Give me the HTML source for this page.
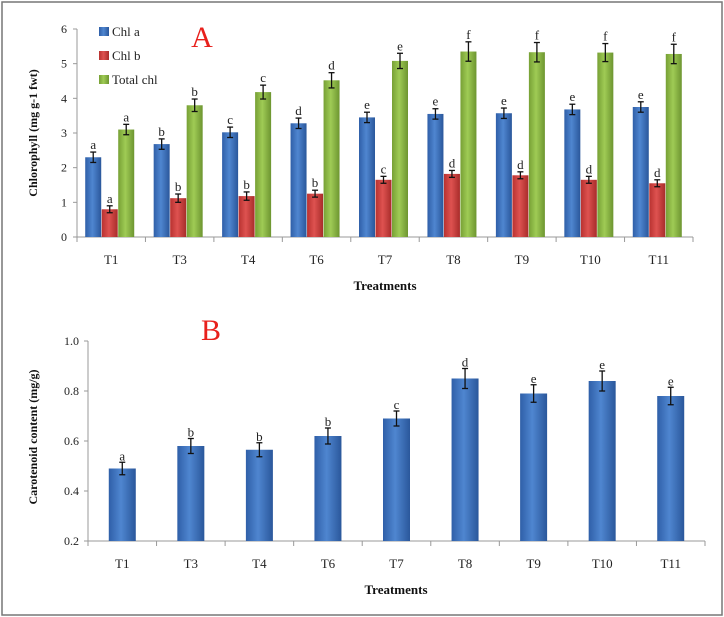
<!DOCTYPE html>
<html><head><meta charset="utf-8"><style>
body{margin:0;background:#fff;}
svg{display:block;font-family:"Liberation Serif",serif;}
</style></head><body>
<svg id="c" width="724" height="617">
<defs>
<linearGradient id="gb" x1="0" x2="1"><stop offset="0" stop-color="#2f5fa8"/><stop offset="0.45" stop-color="#4f86d0"/><stop offset="1" stop-color="#2a579b"/></linearGradient>
<linearGradient id="gr" x1="0" x2="1"><stop offset="0" stop-color="#b83230"/><stop offset="0.45" stop-color="#de5250"/><stop offset="1" stop-color="#a82c2a"/></linearGradient>
<linearGradient id="gg" x1="0" x2="1"><stop offset="0" stop-color="#77a035"/><stop offset="0.45" stop-color="#9fcb55"/><stop offset="1" stop-color="#6d9530"/></linearGradient>
</defs>
<rect x="2" y="2" width="720" height="613" fill="#fff" stroke="#777" stroke-width="1.5"/>
</svg>
<script>
const cats=["T1","T3","T4","T6","T7","T8","T9","T10","T11"];
const chlA=[2.3,2.68,3.02,3.28,3.45,3.55,3.57,3.68,3.75];
const chlB=[0.8,1.12,1.18,1.25,1.65,1.82,1.78,1.65,1.55];
const chlT=[3.1,3.8,4.18,4.52,5.08,5.35,5.33,5.32,5.28];
const errA=[0.15,0.15,0.15,0.15,0.15,0.15,0.15,0.15,0.15];
const errB=[0.1,0.12,0.12,0.1,0.1,0.1,0.1,0.1,0.1];
const errT=[0.15,0.18,0.2,0.22,0.22,0.28,0.28,0.26,0.28];
const letA=["a","b","c","d","e","e","e","e","e"];
const letB=["a","b","b","b","c","d","d","d","d"];
const letT=["a","b","c","d","e","f","f","f","f"];
const yTicksA=[0,1,2,3,4,5,6];
const caro=[0.49,0.58,0.565,0.62,0.69,0.85,0.79,0.84,0.78];
const caroErr=[0.025,0.03,0.028,0.032,0.03,0.04,0.035,0.04,0.035];
const caroLet=["a","b","b","b","c","d","e","e","e"];
const yTicksB=[0.2,0.4,0.6,0.8,1.0];

const svg=document.getElementById('c');
const NS="http://www.w3.org/2000/svg";
function mk(t,a,txt){const e=document.createElementNS(NS,t);for(const k in a)e.setAttribute(k,a[k]);if(txt!==undefined)e.textContent=txt;svg.appendChild(e);return e;}

// Chart A
const ax0=77,ax1=693,ay0=237,ay1=29;
const yA=v=>ay0-(v/6)*(ay0-ay1);
const bwA=(ax1-ax0)/cats.length;
const xA=i=>ax0+bwA*(i+0.5);
let e;
e=mk('line',{x1:ax0,y1:ay1,x2:ax0,y2:ay0,stroke:'#999'});

e=mk('line',{x1:ax0,y1:ay0,x2:ax1,y2:ay0,stroke:'#999'});

yTicksA.forEach(v=>{
 mk('line',{x1:ax0-4,y1:yA(v),x2:ax0,y2:yA(v),stroke:'#999'});
 e=mk('text',{x:ax0-10,y:yA(v)+4,'text-anchor':'end','font-size':12,fill:'#222'},String(v));
 
});
for(let i=0;i<=cats.length;i++)mk('line',{x1:ax0+bwA*i,y1:ay0,x2:ax0+bwA*i,y2:ay0+5,stroke:'#999'});
const series=[[chlA,errA,letA,'url(#gb)','bar-chl-a'],[chlB,errB,letB,'url(#gr)','bar-chl-b'],[chlT,errT,letT,'url(#gg)','bar-total-chl']];
cats.forEach((c,i)=>{
 series.forEach((s,j)=>{
  const w=16,x=xA(i)-26+j*16.5;
  const v=s[0][i],er=s[1][i];
  e=mk('rect',{x:x,y:yA(v),width:w,height:ay0-yA(v),fill:s[3]});
  
  const cx=x+w/2;
  mk('line',{x1:cx,y1:yA(v+er),x2:cx,y2:yA(v-er),stroke:'#111','stroke-width':1.3});
  mk('line',{x1:cx-3,y1:yA(v+er),x2:cx+3,y2:yA(v+er),stroke:'#111','stroke-width':1.3});
  mk('line',{x1:cx-3,y1:yA(v-er),x2:cx+3,y2:yA(v-er),stroke:'#111','stroke-width':1.3});
  e=mk('text',{x:cx,y:yA(v+er)-3,'text-anchor':'middle','font-size':13,fill:'#222'},s[2][i]);
  
 });
 e=mk('text',{x:xA(i),y:ay0+27,'text-anchor':'middle','font-size':13,fill:'#222'},c);
 
});
e=mk('text',{x:385,y:290,'text-anchor':'middle','font-size':13,'font-weight':'bold',fill:'#111'},'Treatments');

e=mk('text',{x:0,y:0,transform:'translate(37,133) rotate(-90)','text-anchor':'middle','font-size':12,'font-weight':'bold',fill:'#111'},'Chlorophyll (mg g-1 fwt)');

e=mk('text',{x:202,y:47,'text-anchor':'middle','font-size':30,fill:'#e8201c'},'A');

[['url(#gb)','Chl a','legend-chl-a'],['url(#gr)','Chl b','legend-chl-b'],['url(#gg)','Total chl','legend-total-chl']].forEach((l,k)=>{
 const y=33+k*24;
 mk('rect',{x:99,y:y-6,width:10,height:9,fill:l[0]});
 e=mk('text',{x:112,y:y+3,'font-size':13,fill:'#222'},l[1]);
 
});

// Chart B
const bx0=88,bx1=705,by0=541,by1=341;
const yB=v=>by0-((v-0.2)/0.8)*(by0-by1);
const bwB=(bx1-bx0)/cats.length;
const xB=i=>bx0+bwB*(i+0.5);
e=mk('line',{x1:bx0,y1:by1,x2:bx0,y2:by0,stroke:'#999'});

e=mk('line',{x1:bx0,y1:by0,x2:bx1,y2:by0,stroke:'#999'});

yTicksB.forEach(v=>{
 mk('line',{x1:bx0-4,y1:yB(v),x2:bx0,y2:yB(v),stroke:'#999'});
 e=mk('text',{x:bx0-9,y:yB(v)+4,'text-anchor':'end','font-size':12,fill:'#222'},v.toFixed(1));
 
});
for(let i=0;i<=cats.length;i++)mk('line',{x1:bx0+bwB*i,y1:by0,x2:bx0+bwB*i,y2:by0+5,stroke:'#999'});
cats.forEach((c,i)=>{
 const w=27,x=xB(i)-w/2,v=caro[i],er=caroErr[i];
 e=mk('rect',{x:x,y:yB(v),width:w,height:by0-yB(v),fill:'url(#gb)'});
 
 const cx=xB(i);
 mk('line',{x1:cx,y1:yB(v+er),x2:cx,y2:yB(v-er),stroke:'#111','stroke-width':1.3});
 mk('line',{x1:cx-3,y1:yB(v+er),x2:cx+3,y2:yB(v+er),stroke:'#111','stroke-width':1.3});
 mk('line',{x1:cx-3,y1:yB(v-er),x2:cx+3,y2:yB(v-er),stroke:'#111','stroke-width':1.3});
 e=mk('text',{x:cx,y:yB(v+er)-2,'text-anchor':'middle','font-size':13,fill:'#222'},caroLet[i]);
 
 e=mk('text',{x:cx,y:by0+27,'text-anchor':'middle','font-size':13,fill:'#222'},c);
 
});
e=mk('text',{x:396,y:594,'text-anchor':'middle','font-size':13,'font-weight':'bold',fill:'#111'},'Treatments');

e=mk('text',{x:0,y:0,transform:'translate(37,437) rotate(-90)','text-anchor':'middle','font-size':12,'font-weight':'bold',fill:'#111'},'Carotenoid content (mg/g)');

e=mk('text',{x:211,y:340,'text-anchor':'middle','font-size':30,fill:'#e8201c'},'B');

</script>
</body></html>
